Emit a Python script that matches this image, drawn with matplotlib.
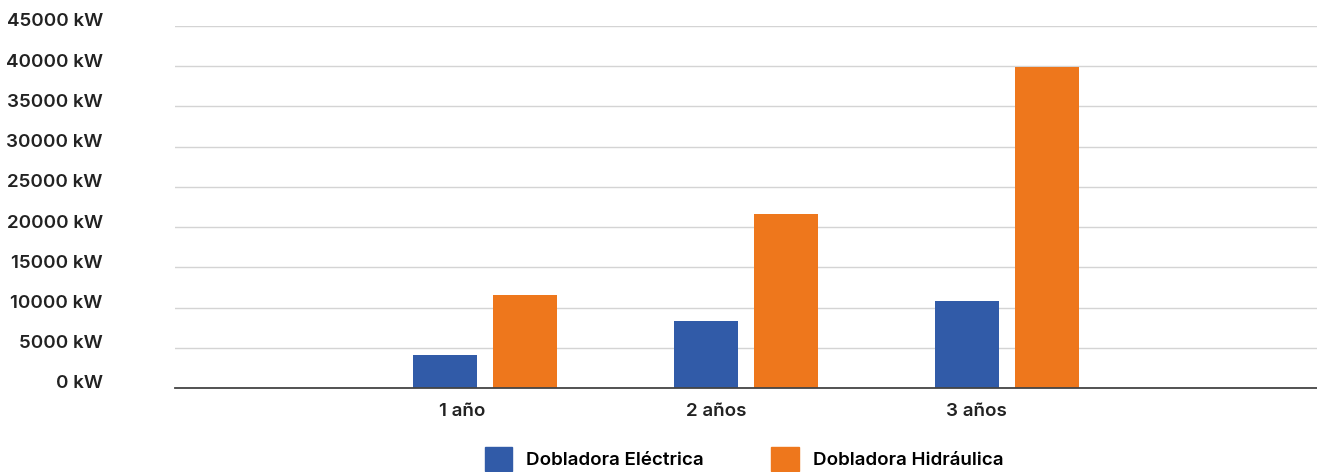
import numpy as np
import matplotlib.pyplot as plt
import matplotlib.transforms as mtransforms
from matplotlib.patches import Patch

categories = ["1 año", "2 años", "3 años"]
electrica = [4100, 8300, 10800]
hidraulica = [11600, 21600, 39900]
series_names = ["Dobladora Eléctrica", "Dobladora Hidráulica"]
yticks = list(range(0, 45001, 5000))

blue = "#315ba8"
orange = "#ee771c"
text_color = "#222222"
fs = 13.5

plt.rcParams['font.family'] = ['Inter', 'DejaVu Sans']
plt.rcParams['font.weight'] = 'semibold'

fig = plt.figure(figsize=(13.17, 4.72), dpi=100)
ax = fig.add_axes([175 / 1317, 84 / 472, 1 - 175 / 1317, (388 - 26) / 472])

x = np.arange(len(categories))
w = 0.246
off = 0.154
ax.bar(x - off, electrica, w, color=blue, zorder=3)
ax.bar(x + off, hidraulica, w, color=orange, zorder=3)

ax.set_xlim(-1.19, 3.19)
ax.set_ylim(0, 45000)
ax.set_yticks(yticks)
ax.set_yticklabels([f"{v} kW" for v in yticks], fontsize=fs, color=text_color)
ax.set_xticks(x)
ax.set_xticklabels(categories, fontsize=fs, color=text_color, ha="right")
ax.tick_params(axis="y", length=0, pad=52)
ax.tick_params(axis="x", length=0, pad=11)
ax.grid(axis="y", color="#d4d4d4", linewidth=1, zorder=0)

# y labels sit a little above their gridlines
up = mtransforms.ScaledTranslation(0, 6 / 100, fig.dpi_scale_trans)
for lab in ax.get_yticklabels():
    lab.set_transform(lab.get_transform() + up)

for s in ["top", "right", "left"]:
    ax.spines[s].set_visible(False)
ax.spines["bottom"].set_color("#444444")
ax.spines["bottom"].set_linewidth(1.3)
ax.spines["bottom"].set_zorder(4)

handles = [Patch(color=blue), Patch(color=orange)]
fig.legend(handles, series_names, loc="lower left", ncol=2, frameon=False,
           fontsize=fs, bbox_to_anchor=(485 / 1317, 0.002), borderpad=0,
           borderaxespad=0, handlelength=1.45, handleheight=1.62,
           handletextpad=0.75, columnspacing=3.6)

fig.savefig("out.png", dpi=100)
